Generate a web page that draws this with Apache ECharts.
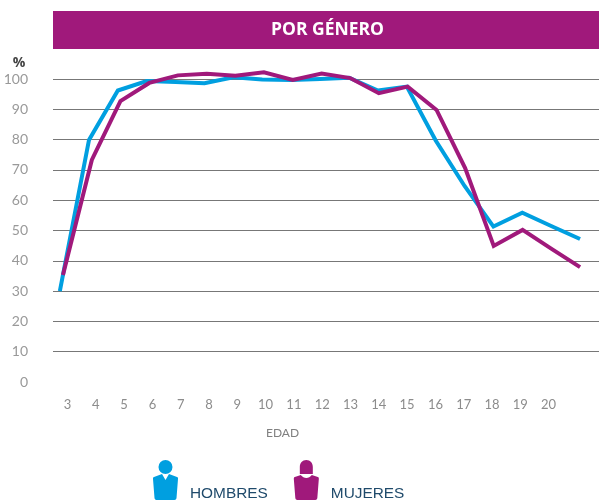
<!DOCTYPE html>
<html>
<head>
<meta charset="utf-8">
<title>Por género</title>
<style>
  html, body { margin: 0; padding: 0; background: #fff; }
  #main { width: 599px; height: 501px; }
</style>
</head>
<body>
<div id="main"></div>
<script src="https://cdn.jsdelivr.net/npm/echarts@6/dist/echarts.min.js"></script>
<script>
var edades = [3, 4, 5, 6, 7, 8, 9, 10, 11, 12, 13, 14, 15, 16, 17, 18, 19, 20];

// las dos lineas no van alineadas con las etiquetas, por eso llevan su propia x
var hombresEdad = [2.73, 3.76, 4.78, 5.80, 6.82, 7.84, 8.86, 9.88, 10.90, 11.93, 12.95, 13.97, 14.99, 16.01, 17.03, 18.05, 19.07, 20.09, 21.11];
var hombresPct = [30, 79.9, 96.2, 99.3, 99, 98.6, 100.6, 99.8, 99.7, 100, 100.4, 96.2, 97.5, 79.7, 64.7, 51.3, 55.9, 51.5, 47.2];
var mujeresEdad = [2.84, 3.86, 4.87, 5.89, 6.90, 7.92, 8.93, 9.94, 10.96, 11.98, 12.99, 14.00, 15.02, 16.04, 17.05, 18.06, 19.08, 20.09, 21.11];
var mujeresPct = [35.3, 73.3, 92.7, 98.7, 101.2, 101.7, 101.1, 102.2, 99.7, 101.8, 100.3, 95.3, 97.5, 89.8, 70.6, 44.9, 50.2, 44, 37.9];

var iconoHombre = "path://M12.5 0a7 7 0 1 1-0.01 0zM1 17l8-3 3.5 6 3.5-6 8 3c1 0.400 1 1 1 2l-1.500 19c-0.100 1-1 2-2 2H3.500c-1 0-1.900-1-2-2L0 19c0-1 0-1.600 1-2z";
var iconoMujer = "path://M12.500 0c4 0 6.500 3 6.500 7v7H6V7c0-4 2.500-7 6.500-7zM1 17l6-2c1.500 2 3.500 3 5.500 3s4-1 5.500-3l6 2c1 0.400 1 1 1 2l-1.500 19c-0.100 1-1 2-2 2H3.500c-1 0-1.900-1-2-2L0 19c0-1 0-1.600 1-2z";

function pares(xs, ys) {
  return xs.map(function (x, i) {
    return [x, ys[i]];
  });
}

var myChart = echarts.init(document.getElementById("main"));
myChart.setOption({
  animation: false,
  grid: { left: 53, top: 79, width: 546, height: 303 },
  graphic: [
    { type: "rect", silent: true, shape: { x: 53, y: 11, width: 546, height: 38 }, style: { fill: "#a0197b" } },
    {
      type: "text",
      silent: true,
      x: 327.5,
      y: 30,
      style: { text: "POR GÉNERO", fill: "#fff", font: "bold 17.5px 'Open Sans'", align: "center", verticalAlign: "middle" },
    },
    {
      type: "text",
      silent: true,
      x: 282.5,
      y: 433,
      style: { text: "EDAD", fill: "#808080", font: "12px Lato", align: "center", verticalAlign: "middle" },
    },
  ],
  legend: {
    left: 153,
    top: 453,
    padding: 0,
    itemWidth: 25,
    itemHeight: 40,
    itemGap: 26,
    symbolKeepAspect: false,
    // el texto va abajo, a la altura de los pies del icono
    formatter: function (name) {
      return "\n" + name;
    },
    textStyle: { color: "#1f4a6b", fontFamily: "Liberation Sans", fontSize: 15.4, lineHeight: 27, padding: [0, 0, 0, 7] },
    data: [
      { name: "HOMBRES", icon: iconoHombre },
      { name: "MUJERES", icon: iconoMujer },
    ],
  },
  xAxis: {
    type: "value",
    min: 2.488,
    max: 21.78,
    axisLine: { show: false },
    axisTick: { show: false },
    splitLine: { show: false },
    axisLabel: {
      customValues: edades,
      margin: 16,
      color: "#8c8c8c",
      fontFamily: "Lato",
      fontSize: 13,
    },
  },
  yAxis: {
    type: "value",
    min: 0,
    max: 100,
    interval: 10,
    name: "%",
    nameLocation: "end",
    nameGap: 9,
    nameTextStyle: { color: "#444", fontFamily: "Open Sans", fontSize: 14, fontWeight: "bold", align: "center", padding: [0, 68, 0, 0] },
    axisLine: { show: false },
    axisTick: { show: false },
    splitLine: { showMinLine: false, lineStyle: { color: "#777", width: 1 } },
    axisLabel: { margin: 25, color: "#999", fontFamily: "Lato", fontSize: 14 },
  },
  series: [
    {
      name: "HOMBRES",
      type: "line",
      clip: false,
      symbol: "none",
      color: "#009fe0",
      lineStyle: { width: 4, color: "#009fe0", join: "miter" },
      data: pares(hombresEdad, hombresPct),
    },
    {
      name: "MUJERES",
      type: "line",
      clip: false,
      symbol: "none",
      color: "#a0197b",
      lineStyle: { width: 4, color: "#a0197b", join: "miter" },
      data: pares(mujeresEdad, mujeresPct),
    },
  ],
});
</script>
</body>
</html>
